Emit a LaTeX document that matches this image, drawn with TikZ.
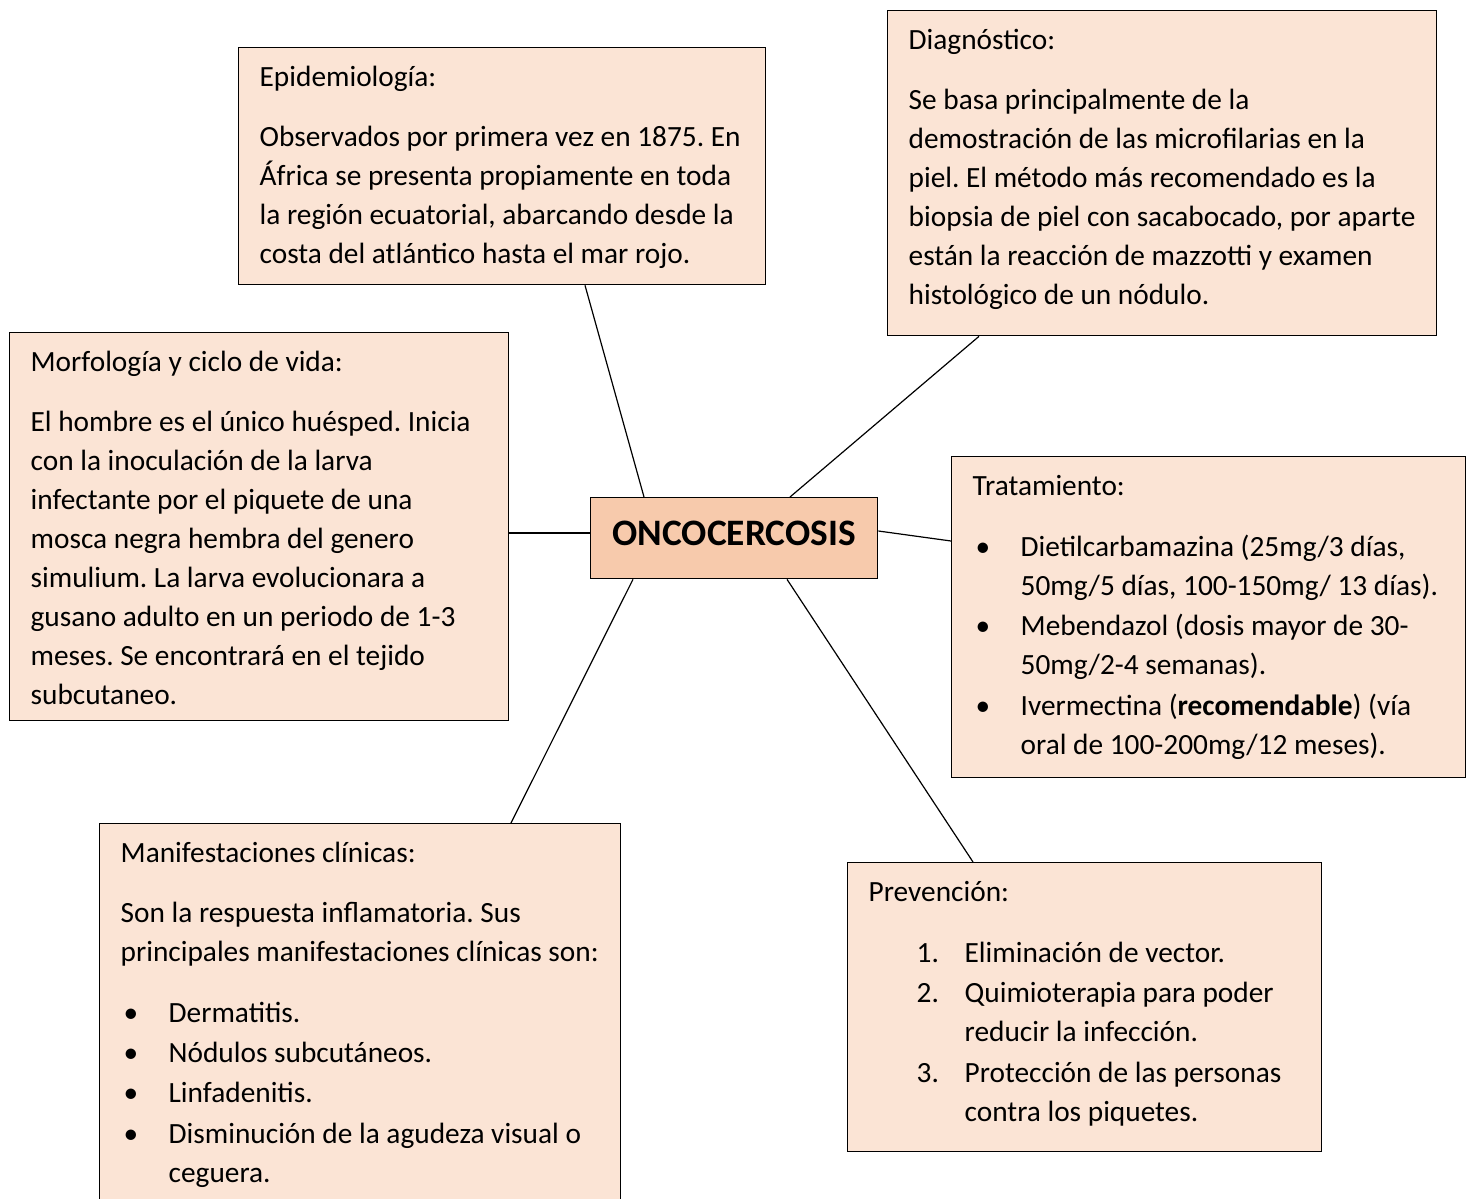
\documentclass[tikz,border=0pt]{standalone}
\usepackage{fontspec}
\setmainfont{Carlito}
\usetikzlibrary{positioning, calc}
\definecolor{durazno}{HTML}{FBE4D5}
\definecolor{salmon}{HTML}{F7CAAC}
\newlength\px
\setlength\px{0.375pt}
\newcommand{\caja}[3]{\parbox[t][#1\px][t]{#2\px}{\fontsize{11}{14.625}\selectfont\frenchspacing #3}}
\newcommand{\titulo}[1]{\hbox to\hsize{\rule{0pt}{39\px}#1\hfil}\vspace{7.7pt}}
\newcommand{\linea}[1]{\hbox{#1}}
\newcommand{\punto}[1]{\vspace{0.5pt}\hbox{\makebox[48\px][l]{\hspace{3\px}\textbullet}#1}}
\newcommand{\sigue}[1]{\hbox{\hspace{48\px}#1}}
\newcommand{\numero}[2]{\vspace{0.5pt}\hbox{\hspace{48\px}\makebox[48\px][l]{#1.}#2}}
\newcommand{\siguenum}[1]{\hbox{\hspace{96\px}#1}}

\begin{document}
\begin{tikzpicture}[x=1\px, y=-1\px,
       box/.style = {rectangle, draw, fill=durazno, anchor=north west,
                     inner xsep=21\px, inner ysep=0pt, line width=0.5pt},
    centro/.style = {rectangle, draw, fill=salmon, anchor=north west,
                     minimum width=287\px, minimum height=81\px,
                     font=\fontsize{14}{17}\selectfont\bfseries,
                     text height=9pt, text depth=3.5pt, line width=0.5pt},
    enlace/.style = {line width=0.45pt}
                        ]
\useasboundingbox (0,0) rectangle (1471,1198);
\clip (0,0) rectangle (1471,1198);
\node (onco) [centro] at (590,497) {ONCOCERCOSIS};
\node (epi)  [box] at (238,47) {\caja{237}{485}{%
  \titulo{Epidemiología:}
  \linea{Observados por primera vez en 1875. En}
  \linea{África se presenta propiamente en toda}
  \linea{la región ecuatorial, abarcando desde la}
  \linea{costa del atlántico hasta el mar rojo.}}};
\node (diag) [box] at (887,10) {\caja{325}{507}{%
  \titulo{Diagnóstico:}
  \linea{Se basa principalmente de la}
  \linea{demostración de las microfilarias en la}
  \linea{piel. El método más recomendado es la}
  \linea{biopsia de piel con sacabocado, por aparte}
  \linea{están la reacción de mazzotti y examen}
  \linea{histológico de un nódulo.}}};
\node (morf) [box] at (9,332) {\caja{388}{457}{%
  \titulo{Morfología y ciclo de vida:}
  \linea{El hombre es el único huésped. Inicia}
  \linea{con la inoculación de la larva}
  \linea{infectante por el piquete de una}
  \linea{mosca negra hembra del genero}
  \linea{simulium. La larva evolucionara a}
  \linea{gusano adulto en un periodo de 1-3}
  \linea{meses. Se encontrará en el tejido}
  \linea{subcutaneo.}}};
\node (trat) [box] at (951,456) {\caja{321}{472}{%
  \titulo{Tratamiento:}
  \punto{Dietilcarbamazina (25mg/3 días,}
  \sigue{50mg/5 días, 100-150mg/ 13 días).}
  \punto{Mebendazol (dosis mayor de 30-}
  \sigue{50mg/2-4 semanas).}
  \punto{Ivermectina (\textbf{recomendable}) (vía}
  \sigue{oral de 100-200mg/12 meses).}}};
\node (manif)[box] at (99,823) {\caja{420}{479}{%
  \titulo{Manifestaciones clínicas:}
  \linea{Son la respuesta inflamatoria. Sus}
  \linea{principales manifestaciones clínicas son:}
  \vspace{7.7pt}
  \punto{Dermatitis.}
  \punto{Nódulos subcutáneos.}
  \punto{Linfadenitis.}
  \punto{Disminución de la agudeza visual o}
  \sigue{ceguera.}}};
\node (prev) [box] at (847,862) {\caja{289}{432}{%
  \titulo{Prevención:}
  \numero{1}{Eliminación de vector.}
  \numero{2}{Quimioterapia para poder}
  \siguenum{reducir la infección.}
  \numero{3}{Protección de las personas}
  \siguenum{contra los piquetes.}}};
% lineas al centro
\draw[enlace] ($(epi.south west)+(347,0)$) -- ($(onco.north west)+(54,0)$);
\draw[enlace] ($(diag.south west)+(92,0)$) -- ($(onco.north west)+(200,0)$);
\draw[enlace] ($(morf.north east)+(0,201)$) -- ($(onco.north west)+(0,36)$);
\draw[enlace] ($(onco.north east)+(0,34)$) -- ($(trat.north west)+(0,85)$);
\draw[enlace] ($(onco.south west)+(43,0)$) -- ($(manif.north west)+(412,0)$);
\draw[enlace] ($(onco.south west)+(197,0)$) -- ($(prev.north west)+(126,0)$);
\end{tikzpicture}
\end{document}
